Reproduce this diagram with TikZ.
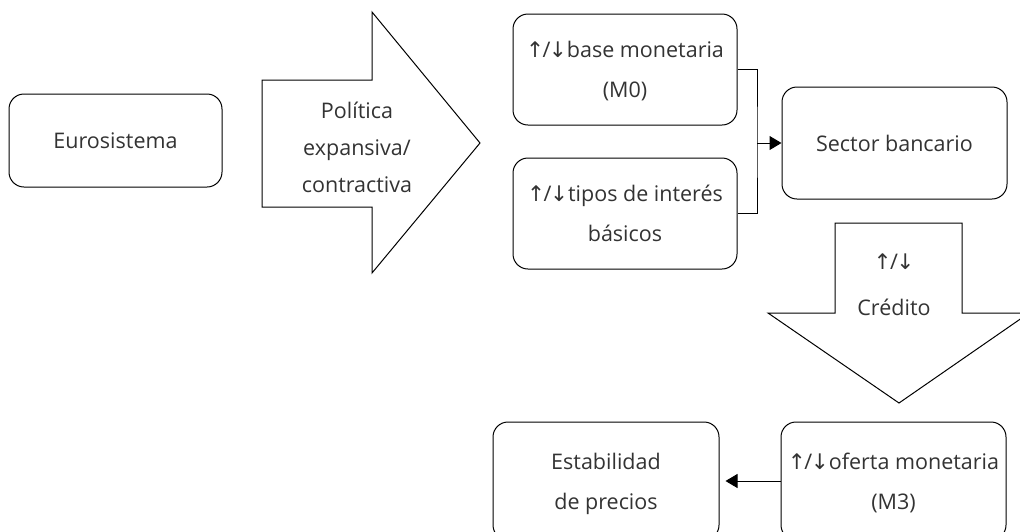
\documentclass[tikz,border=0pt]{standalone}
\usepackage{fontspec}
\setmainfont{Open Sans}
\newfontfamily\arrfont{DejaVu Sans}
\usetikzlibrary{arrows.meta}
\definecolor{txt}{HTML}{333333}
\newcommand{\subebaja}{{\arrfont\char"2191}\kern-1.5pt/\kern-1.5pt{\arrfont\char"2193}}
\begin{document}
\begin{tikzpicture}[x=1pt,y=-1pt,line width=1pt,
  caja/.style={draw,rounded corners=15pt,inner sep=0pt,align=center,text=txt,text depth=0pt,
    font=\fontsize{21.5pt}{40pt}\selectfont},
  rotulo/.style={inner sep=0pt,align=center,text=txt,font=\fontsize{21.5pt}{37pt}\selectfont}]
\useasboundingbox (0,0) rectangle (1020,531);
\node[caja,minimum width=213pt,minimum height=93pt] (euro) at (115.5,140.5) {Eurosistema};
\draw (262,80)--(372,80)--(372,12)--(480,143)--(372,273)--(372,207)--(262,207)--cycle;
\node[rotulo] (pol) at (357,147) {Política\\expansiva/\\contractiva};
\node[caja,minimum width=224pt,minimum height=111pt] (m0) at (625,69.5) {\subebaja base monetaria\\(M0)};
\node[caja,minimum width=224pt,minimum height=111pt] (tipos) at (625,213.5) {\subebaja tipos de interés\\básicos};
\node[caja,minimum width=225pt,minimum height=112pt] (banco) at (894.5,143) {Sector bancario};
\coordinate (nudo) at (757,143);
\draw (m0.east) -| (nudo) |- (tipos.east);
\draw[-{Triangle[length=12pt,width=14pt]}] (nudo) -- (banco.west);
\draw (835,223)--(962,223)--(962,313)--(1029,313)--(899,403)--(768,313)--(835,313)--cycle;
\node[rotulo,font=\fontsize{21.5pt}{46pt}\selectfont] (cred) at (894,285) {\subebaja\\Crédito};
\node[caja,minimum width=225pt,minimum height=118pt] (oferta) at (893.5,481) {\subebaja oferta monetaria\\(M3)};
\node[caja,minimum width=226pt,minimum height=118pt] (precios) at (606,481) {Estabilidad\\de precios};
\draw[-{Triangle[length=12pt,width=14pt]},shorten >=6pt] (oferta.west) -- (precios.east);
\end{tikzpicture}
\end{document}
